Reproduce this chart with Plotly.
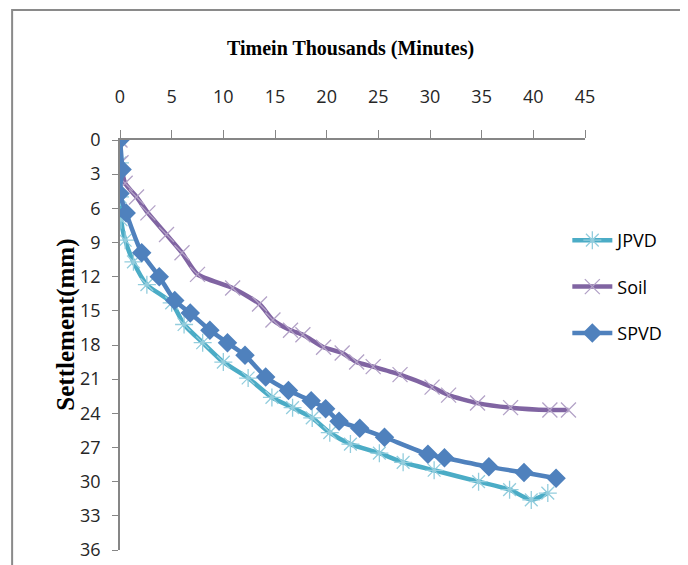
import plotly.graph_objects as go

# Time in thousands of minutes, settlement in mm
jpvd_time = [0, 0.0, 0.0, 0.1, 0.5, 1.3, 2.6, 5.0, 6.2, 8.0, 10.0, 12.4, 14.7, 16.7, 18.6,
             20.3, 22.3, 25.1, 27.4, 30.4, 34.7, 37.7, 39.8, 41.4]
jpvd_settle = [0, 2.0, 5.0, 7.0, 8.8, 10.7, 12.7, 14.3, 16.2, 17.8, 19.5, 20.9, 22.6, 23.5, 24.4,
               25.7, 26.7, 27.5, 28.3, 29.0, 30.0, 30.7, 31.6, 31.0]

soil_time = [0, 0.1, 0.5, 1.6, 2.7, 4.5, 6.0, 7.5, 10.9, 13.5, 14.8, 16.5, 17.7, 19.7, 21.5,
             22.9, 24.5, 27.1, 30.2, 31.8, 34.6, 37.8, 41.6, 43.4]
soil_settle = [0, 2.0, 3.8, 5.0, 6.4, 8.3, 9.9, 11.8, 13.0, 14.4, 15.8, 16.7, 17.1, 18.2, 18.7,
               19.5, 19.9, 20.6, 21.7, 22.4, 23.1, 23.5, 23.7, 23.7]

spvd_time = [0, 0.2, 0.0, 0.6, 2.1, 3.8, 5.3, 6.8, 8.7, 10.4, 12.1, 14.1, 16.3, 18.5, 19.9,
             21.2, 23.2, 25.6, 29.8, 31.4, 35.7, 39.1, 42.2]
spvd_settle = [0, 2.6, 4.7, 6.4, 9.9, 12.0, 14.1, 15.2, 16.7, 17.8, 18.9, 20.8, 22.0, 22.9, 23.6,
               24.7, 25.3, 26.1, 27.6, 27.9, 28.7, 29.2, 29.7]

x_ticks = [0, 5, 10, 15, 20, 25, 30, 35, 40, 45]
y_ticks = [0, 3, 6, 9, 12, 15, 18, 21, 24, 27, 30, 33, 36]

tick_font = dict(family="Open Sans, sans-serif", size=18, color="#262626")
axis_col = "#868686"

fig = go.Figure()
fig.add_trace(go.Scatter(
    x=jpvd_time, y=jpvd_settle, name="JPVD", mode="lines+markers",
    line=dict(color="#4BACC6", width=4.5, shape="spline", smoothing=0.6),
    marker=dict(symbol="asterisk-open", size=15, color="#93CDDD", line=dict(color="#93CDDD", width=1.3)),
    legendgroup="a"))
fig.add_trace(go.Scatter(
    x=soil_time, y=soil_settle, name="Soil", mode="lines+markers",
    line=dict(color="#8064A2", width=4.5, shape="spline", smoothing=0.6),
    marker=dict(symbol="x-thin-open", size=15, color="#B3A2C7", line=dict(color="#B3A2C7", width=1.3)),
    legendgroup="b"))
fig.add_trace(go.Scatter(
    x=spvd_time, y=spvd_settle, name="SPVD", mode="lines+markers",
    line=dict(color="#4F81BD", width=4.5, shape="spline", smoothing=0.6),
    marker=dict(symbol="diamond", size=15, color="#4F81BD"),
    legendgroup="c"))

fig.update_layout(
    width=688, height=565,
    margin=dict(l=112, r=111, t=132, b=23, autoexpand=False),
    paper_bgcolor="white", plot_bgcolor="white",
    showlegend=True,
    legend=dict(x=0.962, y=0.8, xanchor="left", yanchor="top",
                font=dict(family="Open Sans, sans-serif", size=18, color="#000000"),
                tracegroupgap=20, itemwidth=40, bgcolor="rgba(0,0,0,0)"),
    xaxis=dict(side="top", range=[0, 45], tickvals=x_ticks, ticks="outside", ticklen=8,
               tickcolor=axis_col, showline=True, linecolor=axis_col, linewidth=1.5,
               showgrid=False, zeroline=False, tickfont=tick_font, ticklabelstandoff=20,
               automargin=False),
    yaxis=dict(range=[36, 0], tickvals=y_ticks, ticks="outside", ticklen=6,
               tickcolor=axis_col, showline=True, linecolor=axis_col, linewidth=1.5,
               showgrid=False, zeroline=False, tickfont=tick_font, ticklabelstandoff=8,
               automargin=False),
    annotations=[
        dict(text="<b>Timein Thousands (Minutes)</b>", xref="paper", yref="paper",
             x=0.495, y=1.224, showarrow=False,
             font=dict(family="Liberation Serif, serif", size=20, color="#000000"),
             xanchor="center", yanchor="middle"),
        dict(text="<b>Settlement(mm)</b>", xref="paper", yref="paper", textangle=-90,
             x=-0.118, y=0.55, showarrow=False,
             font=dict(family="Liberation Serif, serif", size=25, color="#000000"),
             xanchor="center", yanchor="middle"),
    ],
    shapes=[dict(type="rect", xref="paper", yref="paper", x0=-0.232, x1=1.208, y0=-0.2, y1=1.317,
                 line=dict(color="#8a8a8a", width=2), fillcolor="rgba(0,0,0,0)", layer="below")],
)

fig.write_html("out.html")
